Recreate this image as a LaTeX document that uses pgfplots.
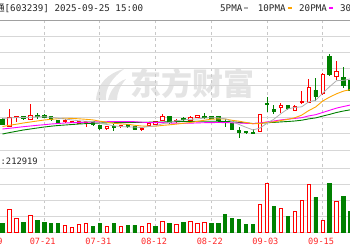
\documentclass[border=0pt]{standalone}
\usepackage{pgfplots}
\pgfplotsset{compat=1.18}
\usepackage{pgfplotstable}
\usepackage{fontspec}
\setmainfont{DejaVu Sans}
\newfontfamily\mono{DejaVu Sans Mono}
\newfontfamily\cjk{Noto Sans CJK SC}
\definecolor{upred}{RGB}{255,0,0}
\definecolor{dngreen}{RGB}{0,128,0}
\definecolor{gridc}{RGB}{215,215,215}
\definecolor{topc}{RGB}{160,160,160}
\definecolor{vgrid}{RGB}{200,200,200}
\definecolor{maA}{RGB}{176,176,176}
\definecolor{maB}{RGB}{255,165,0}
\definecolor{maC}{RGB}{255,0,255}
\definecolor{maD}{RGB}{0,128,0}
\definecolor{wm}{RGB}{228,228,228}
\definecolor{datec}{RGB}{255,40,40}

% candles: i open high low close
\pgfplotstableread{
i o h l c
-5 24.0 40.7 22.7 32.3
-4 32.7 34.5 28.3 34.0
-2 31.0 46.0 30.5 35.0
3 28.7 30.7 26.7 30.0
4 28.0 29.5 27.0 29.0
5 27.0 29.5 26.0 28.5
6 27.5 29.0 23.3 28.3
9 21.3 24.0 20.5 23.3
11 23.3 25.5 22.5 24.7
14 20.3 22.5 19.5 21.7
15 24.7 27.5 23.5 26.7
16 26.0 29.0 25.5 28.3
17 29.3 35.7 29.0 34.0
19 28.3 30.7 27.5 30.0
21 30.0 34.0 28.0 32.3
22 32.7 35.0 32.3 34.7
31 18.3 36.0 18.0 36.0
34 42.3 46.7 37.3 44.7
36 40.0 45.0 39.3 43.3
37 47.3 59.0 46.0 48.3
38 47.3 70.7 46.7 62.7
40 56.7 76.7 55.0 76.0
42 73.3 89.0 70.0 78.3
}\redK
\pgfplotstableread{
i o h l c
-6 31.0 32.0 25.0 26.0
-3 33.3 34.0 30.5 31.3
-1 35.0 36.7 31.0 33.3
0 34.3 35.7 31.7 33.0
1 33.3 34.0 29.3 30.7
2 30.0 30.5 26.0 27.7
7 28.7 29.5 24.0 26.0
8 24.3 25.0 20.5 21.3
10 23.3 25.7 19.0 22.3
12 25.7 26.5 22.5 23.3
13 23.3 24.0 20.0 20.7
18 34.0 34.5 26.5 27.3
20 31.2 33.0 29.0 30.5
23 34.0 36.7 31.3 32.7
24 34.0 34.5 31.0 31.3
25 33.3 34.0 29.3 30.0
26 29.0 30.7 22.7 27.3
27 26.7 27.0 20.5 21.0
28 20.0 22.7 11.7 18.0
29 18.7 19.0 16.5 17.3
30 18.0 20.7 16.7 17.0
32 46.7 52.7 38.3 45.3
33 40.7 44.7 36.0 38.3
35 44.7 45.3 40.5 41.3
39 60.0 71.7 49.3 53.3
41 94.0 96.0 74.3 76.0
43 72.3 83.3 61.7 65.0
44 70.0 72.0 58.0 60.0
}\greenK
% moving averages
\pgfplotstableread{
i a b c d
-6 31.5 23.5 21.0 16.0
-5 32.0 24.7 21.7 17.4
-4 32.5 25.8 22.5 18.7
-3 32.5 27.0 23.3 20.0
-2 32.7 28.0 24.0 21.0
-1 33.2 29.0 24.7 22.0
0 33.3 30.0 25.3 23.0
1 32.7 30.7 26.0 23.8
2 31.9 31.3 26.5 24.5
3 30.9 31.8 27.0 25.0
4 30.1 31.6 27.3 25.5
5 29.2 31.2 27.5 26.0
6 28.7 30.7 27.8 26.4
7 28.4 30.1 28.0 26.7
8 26.6 28.8 28.2 27.0
9 25.5 27.8 28.3 27.2
10 24.2 26.7 28.4 27.3
11 23.5 26.1 28.4 27.4
12 23.0 25.7 28.4 27.5
13 22.9 24.7 28.3 27.6
14 22.5 24.0 27.8 27.7
15 23.4 23.8 27.5 27.8
16 24.1 23.8 27.3 27.9
17 26.3 24.6 27.4 28.0
18 27.6 25.2 27.0 28.2
19 29.3 25.9 26.8 28.4
20 30.0 26.7 26.7 28.5
21 30.8 27.5 26.8 28.6
22 31.0 28.6 27.1 28.7
23 32.0 29.8 27.3 28.8
24 32.3 30.8 27.4 28.8
25 32.2 31.1 27.5 28.7
26 31.2 31.0 27.4 28.5
27 28.5 29.7 27.2 28.2
28 25.5 28.8 27.0 27.6
29 22.7 27.5 26.7 27.1
30 20.1 26.2 26.4 26.5
31 21.9 26.5 27.0 26.7
32 26.7 27.6 28.1 27.3
33 30.8 28.1 29.0 27.6
34 36.3 29.5 30.1 28.1
35 41.1 30.6 30.9 28.5
36 42.6 32.2 31.6 29.0
37 43.2 34.9 32.3 29.8
38 48.1 39.4 34.1 31.1
39 49.8 43.0 35.3 32.1
40 56.7 48.9 37.5 33.9
41 63.3 52.9 39.7 35.6
42 69.3 56.2 41.9 37.5
43 69.7 58.9 43.5 39.0
44 71.1 60.4 45.0 40.2
}\maT
% volume
\pgfplotstableread{
i v
-5 23
-4 13.7
-2 16.7
3 6.3
4 4.7
5 7.7
6 9
9 6
11 5.3
14 6
15 9
17 11
19 8
21 10.3
22 8.5
23 9.3
31 28
32 48.7
34 23.7
36 21
37 31.7
38 47.3
40 12
42 31
}\redV
\pgfplotstableread{
i v
-6 8.7
-3 9.3
-1 11.3
0 9.7
1 8.3
2 8.3
7 6
8 8.3
10 8.3
12 6.3
13 6.7
16 6
18 8.3
20 9.5
24 8.3
25 8.3
26 17.7
27 14
28 13
29 7.7
30 7.7
33 26
35 15.7
39 34.7
41 49
43 35.3
44 20.3
}\greenV

\pgfplotsset{
  panel/.style={scale only axis, width=350pt, xmin=-6.3534, xmax=43.937, anchor=south west},
  mainp/.style={panel, at={(0pt,100pt)}, height=130pt, ymin=0, ymax=130},
  bare/.style={axis line style={draw=none}, major tick length=0pt, tick style={draw=none}},
}
\begin{document}
\begin{tikzpicture}[x=1pt,y=1pt]
\useasboundingbox (0,0) rectangle (350,250);
% watermark
\fill[wm] (96,150) .. controls (97,166) and (108,177) .. (124,181) .. controls (112,172) and (105,162) .. (106,150) -- cycle;
\fill[wm] (108,150) .. controls (110,160) and (117,168) .. (126,171) .. controls (120,164) and (117,157) .. (117,150) -- cycle;
\node[font=\cjk\bfseries\fontsize{31}{31}\selectfont, text=wm, inner sep=0] at (192.5,166) {东方财富};

% vertical dashed grid + date labels
\begin{axis}[panel, at={(0pt,17pt)}, height=213pt, ymin=0, ymax=1, bare, ytick=\empty,
  xtick={0,8,16,24,32,40}, xticklabels={07-21,07-31,08-12,08-22,09-03,09-15},
  xmajorgrids, grid style={vgrid, dash pattern=on 3pt off 3pt, line width=0.8pt},
  xticklabel style={font=\mono\fontsize{8.6}{9}\selectfont, text=datec, anchor=base, yshift=-11pt, xshift=-1.5pt}]
\end{axis}
\node[anchor=base, inner sep=0, font=\mono\fontsize{8.6}{9}\selectfont, text=datec] at (-10.3,6) {07-09};

% main panel grid + wicks
\begin{axis}[mainp, bare, xtick=\empty, ytick={0,16.25,...,130}, yticklabels={},
  ymajorgrids, grid style={gridc, line width=0.8pt},
  extra y ticks={130}, extra y tick labels={}, extra y tick style={grid style={topc, line width=0.9pt}}]
\addplot[draw=none, mark=none, error bars/.cd, y dir=both, y explicit, error mark=none,
  error bar style={draw=upred, line width=0.8pt}]
  table[x=i, y expr={(\thisrow{h}+\thisrow{l})/2}, y error expr={(\thisrow{h}-\thisrow{l})/2}] {\redK};
\addplot[draw=none, mark=none, error bars/.cd, y dir=both, y explicit, error mark=none,
  error bar style={draw=dngreen, line width=0.8pt}]
  table[x=i, y expr={(\thisrow{h}+\thisrow{l})/2}, y error expr={(\thisrow{h}-\thisrow{l})/2}] {\greenK};
\end{axis}

% red bodies
\begin{axis}[mainp, hide axis, ybar stacked, bar width=3.4pt]
\addplot[draw=none, fill=none] table[x=i, y=o] {\redK};
\addplot[draw=upred, fill=white, line width=0.8pt] table[x=i, y expr={\thisrow{c}-\thisrow{o}}] {\redK};
\end{axis}
% green bodies
\begin{axis}[mainp, hide axis, ybar stacked, bar width=3.4pt]
\addplot[draw=none, fill=none] table[x=i, y=c] {\greenK};
\addplot[draw=dngreen, fill=dngreen, line width=0.8pt] table[x=i, y expr={\thisrow{o}-\thisrow{c}}] {\greenK};
\end{axis}
% moving averages
\begin{axis}[mainp, hide axis]
\addplot[maD, line width=0.9pt, mark=none] table[x=i, y=d] {\maT};
\addplot[maC, line width=0.9pt, mark=none] table[x=i, y=c] {\maT};
\addplot[maB, line width=0.9pt, mark=none] table[x=i, y=b] {\maT};
\addplot[maA, line width=0.8pt, mark=none] table[x=i, y=a] {\maT};
\end{axis}

% volume panel
\begin{axis}[panel, at={(0pt,18pt)}, height=64pt, ymin=0, ymax=64, bare, xtick=\empty,
  ytick={0,16,32,48,64}, yticklabels={}, ymajorgrids, grid style={gridc, line width=0.8pt},
  ybar, bar width=3.4pt]
\addplot[bar shift=0pt, draw=upred, fill=white, line width=0.8pt] table[x=i, y=v] {\redV};
\addplot[bar shift=0pt, draw=dngreen, fill=dngreen, line width=0.8pt] table[x=i, y=v] {\greenV};
\end{axis}

% header texts
\node[anchor=base west, inner sep=0, font=\mono\fontsize{9.2}{11}\selectfont, text=black!85] at (-4.7,238.3) {{\cjk 通}[603239] 2025-09-25 15:00};
\node[anchor=base west, inner sep=0, font=\mono\fontsize{9.2}{11}\selectfont, text=black!85] at (220,238.3) {5PMA};
\fill[maA] (244,241) rectangle (248,243.3);
\node[anchor=base west, inner sep=0, font=\mono\fontsize{9.2}{11}\selectfont, text=black!85] at (257.7,238.3) {10PMA};
\fill[maB] (288,241) rectangle (292,243.3);
\node[anchor=base west, inner sep=0, font=\mono\fontsize{9.2}{11}\selectfont, text=black!85] at (299,238.3) {20PMA};
\fill[maC] (329,241) rectangle (333,243.3);
\node[anchor=base west, inner sep=0, font=\mono\fontsize{9.2}{11}\selectfont, text=black!85] at (340,238.3) {30PMA};
\node[anchor=base west, inner sep=0, font=\mono\fontsize{8.8}{10}\selectfont, text=black!85] at (0.5,86) {:212919};
\end{tikzpicture}
\end{document}
